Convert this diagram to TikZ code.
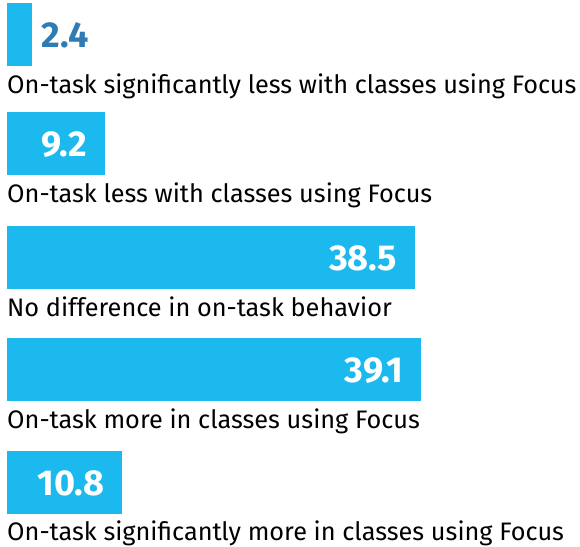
\documentclass[tikz,border=0pt]{standalone}
\usepackage{fontspec}
\setmainfont{Fira Sans}
\usetikzlibrary{positioning}
\definecolor{barblue}{HTML}{1CB9EE}
\definecolor{numblue}{HTML}{2F7CB5}
\tikzset{
    bar/.style={fill=barblue, inner sep=0pt, minimum height=63pt, anchor=north west},
    val/.style={font=\fontsize{36}{36}\selectfont\bfseries, text=white, inner sep=0pt, anchor=base east},
    cat/.style={font=\fontsize{25.3}{25.3}\selectfont, inner sep=0pt, anchor=base west},
  }
\begin{document}
\begin{tikzpicture}[x=1pt,y=-1pt]
  \useasboundingbox (0,0) rectangle (580,546);
  %BARRES (10.6 pt par unite)
  \node[bar, minimum width=25pt] (B1) at (7,3) {};
  \node[bar, minimum width=98pt] (B2) at (7,112) {};
  \node[bar, minimum width=408pt] (B3) at (7,226) {};
  \node[bar, minimum width=414pt] (B4) at (7,338) {};
  \node[bar, minimum width=115pt] (B5) at (7,451) {};
  %VALEURS
  \node[val, text=numblue, anchor=base west] (V1) at ([xshift=9pt,yshift=-13pt]B1.east) {2.4};
  \node[val] (V2) at ([xshift=-18pt,yshift=-13pt]B2.east) {9.2};
  \node[val] (V3) at ([xshift=-18pt,yshift=-13pt]B3.east) {38.5};
  \node[val] (V4) at ([xshift=-18pt,yshift=-13pt]B4.east) {39.1};
  \node[val] (V5) at ([xshift=-18pt,yshift=-13pt]B5.east) {10.8};
  %LEGENDES
  \node[cat] (L1) at ([yshift=-27pt]B1.south west) {On-task significantly less with classes using Focus};
  \node[cat] (L2) at ([yshift=-27pt]B2.south west) {On-task less with classes using Focus};
  \node[cat] (L3) at ([yshift=-27pt]B3.south west) {No difference in on-task behavior};
  \node[cat] (L4) at ([yshift=-27pt]B4.south west) {On-task more in classes using Focus};
  \node[cat] (L5) at ([yshift=-26pt]B5.south west) {On-task significantly more in classes using Focus};
\end{tikzpicture}
\end{document}
